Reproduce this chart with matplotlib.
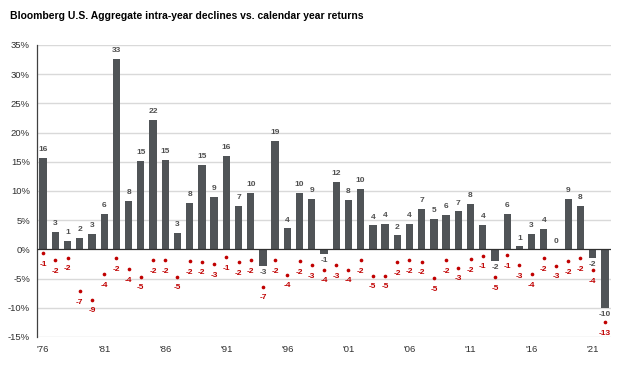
import matplotlib
matplotlib.use("Agg")
import matplotlib.pyplot as plt
import numpy as np

years = list(range(1976, 2023))
returns = [15.6, 3.0, 1.4, 1.9, 2.7, 6.1, 32.6, 8.3, 15.1, 22.1, 15.3, 2.8, 7.9, 14.5,
           9.0, 16.0, 7.4, 9.7, -2.9, 18.5, 3.6, 9.7, 8.7, -0.8, 11.6, 8.4, 10.3, 4.1,
           4.3, 2.4, 4.3, 7.0, 5.2, 5.9, 6.5, 7.8, 4.2, -2.0, 6.0, 0.5, 2.6, 3.5, 0.0,
           8.7, 7.5, -1.5, -10.0]
return_labels = [16, 3, 1, 2, 3, 6, 33, 8, 15, 22, 15, 3, 8, 15, 9, 16, 7, 10, -3, 19,
                 4, 10, 9, -1, 12, 8, 10, 4, 4, 2, 4, 7, 5, 6, 7, 8, 4, -2, 6, 1, 3, 4,
                 0, 9, 8, -2, -10]
declines = [-0.7, -1.8, -1.4, -7.2, -8.6, -4.2, -1.5, -3.4, -4.7, -1.9, -1.8, -4.7, -2.0,
            -2.1, -2.5, -1.3, -2.2, -1.9, -6.4, -1.9, -4.3, -2.0, -2.7, -3.5, -2.7, -3.5,
            -1.9, -4.5, -4.5, -2.2, -1.9, -2.1, -4.9, -1.9, -3.1, -1.7, -1.1, -4.8, -1.0,
            -2.7, -4.2, -1.5, -2.8, -2.0, -1.5, -3.6, -12.5]
decline_labels = [-1, -2, -2, -7, -9, -4, -2, -4, -5, -2, -2, -5, -2, -2, -3, -1, -2, -2,
                  -7, -2, -4, -2, -3, -4, -3, -4, -2, -5, -5, -2, -2, -2, -5, -2, -3, -2,
                  -1, -5, -1, -3, -4, -2, -3, -2, -2, -4, -13]
yticks = [-15, -10, -5, 0, 5, 10, 15, 20, 25, 30, 35]
xtick_years = [1976, 1981, 1986, 1991, 1996, 2001, 2006, 2011, 2016, 2021]
xtick_labels = ["'76", "'81", "'86", "'91", "'96", "'01", "'06", "'11", "'16", "'21"]
title = "Bloomberg U.S. Aggregate intra-year declines vs. calendar year returns"

plt.rcParams['font.family'] = ['Liberation Sans', 'DejaVu Sans']

fig = plt.figure(figsize=(6.24, 3.65), dpi=100)
ax = fig.add_axes([37/624, 1-337/365, (611-37)/624, (337-45)/365])

bar_color = '#505457'
red = '#c00000'

ax.bar(years, returns, width=0.6, color=bar_color, zorder=3)
ax.scatter(years, declines, s=7, color=red, zorder=4, linewidths=0)

for x, v, lab in zip(years, returns, return_labels):
    if v >= 0:
        ax.annotate(str(lab), (x, v), xytext=(0, 3.5), textcoords='offset points',
                    ha='center', va='bottom', fontsize=6, fontweight='bold', color='#505050')
    else:
        ax.annotate(str(lab), (x, v), xytext=(0, -2), textcoords='offset points',
                    ha='center', va='top', fontsize=6, fontweight='bold', color='#505050')

for x, v, lab in zip(years, declines, decline_labels):
    ax.annotate(str(lab), (x, v), xytext=(0, -5.5), textcoords='offset points',
                ha='center', va='top', fontsize=6, fontweight='bold', color=red)

ax.set_xlim(1975.5, 2022.5)
ax.set_ylim(-15, 35)
ax.set_yticks(yticks)
ax.set_yticklabels([f"{t}%" for t in yticks])
ax.set_xticks(xtick_years)
ax.set_xticklabels(xtick_labels)
ax.tick_params(axis='both', length=0, labelsize=6.8, colors='#303030')
ax.tick_params(axis='y', pad=5)
ax.tick_params(axis='x', pad=6)

for t in yticks:
    if t != 0:
        ax.axhline(t, color='#d9d9d9', lw=1.0, zorder=1)
ax.axhline(0, color='#303030', lw=0.9, zorder=5)

for s in ['top', 'right', 'bottom']:
    ax.spines[s].set_visible(False)
ax.spines['left'].set_color('#404040')
ax.spines['left'].set_linewidth(0.9)

fig.text(10/624, 1-16/365, title, fontsize=7.5, fontweight='bold', ha='left', va='center', color='#000000')

fig.savefig('out.png', dpi=100)
